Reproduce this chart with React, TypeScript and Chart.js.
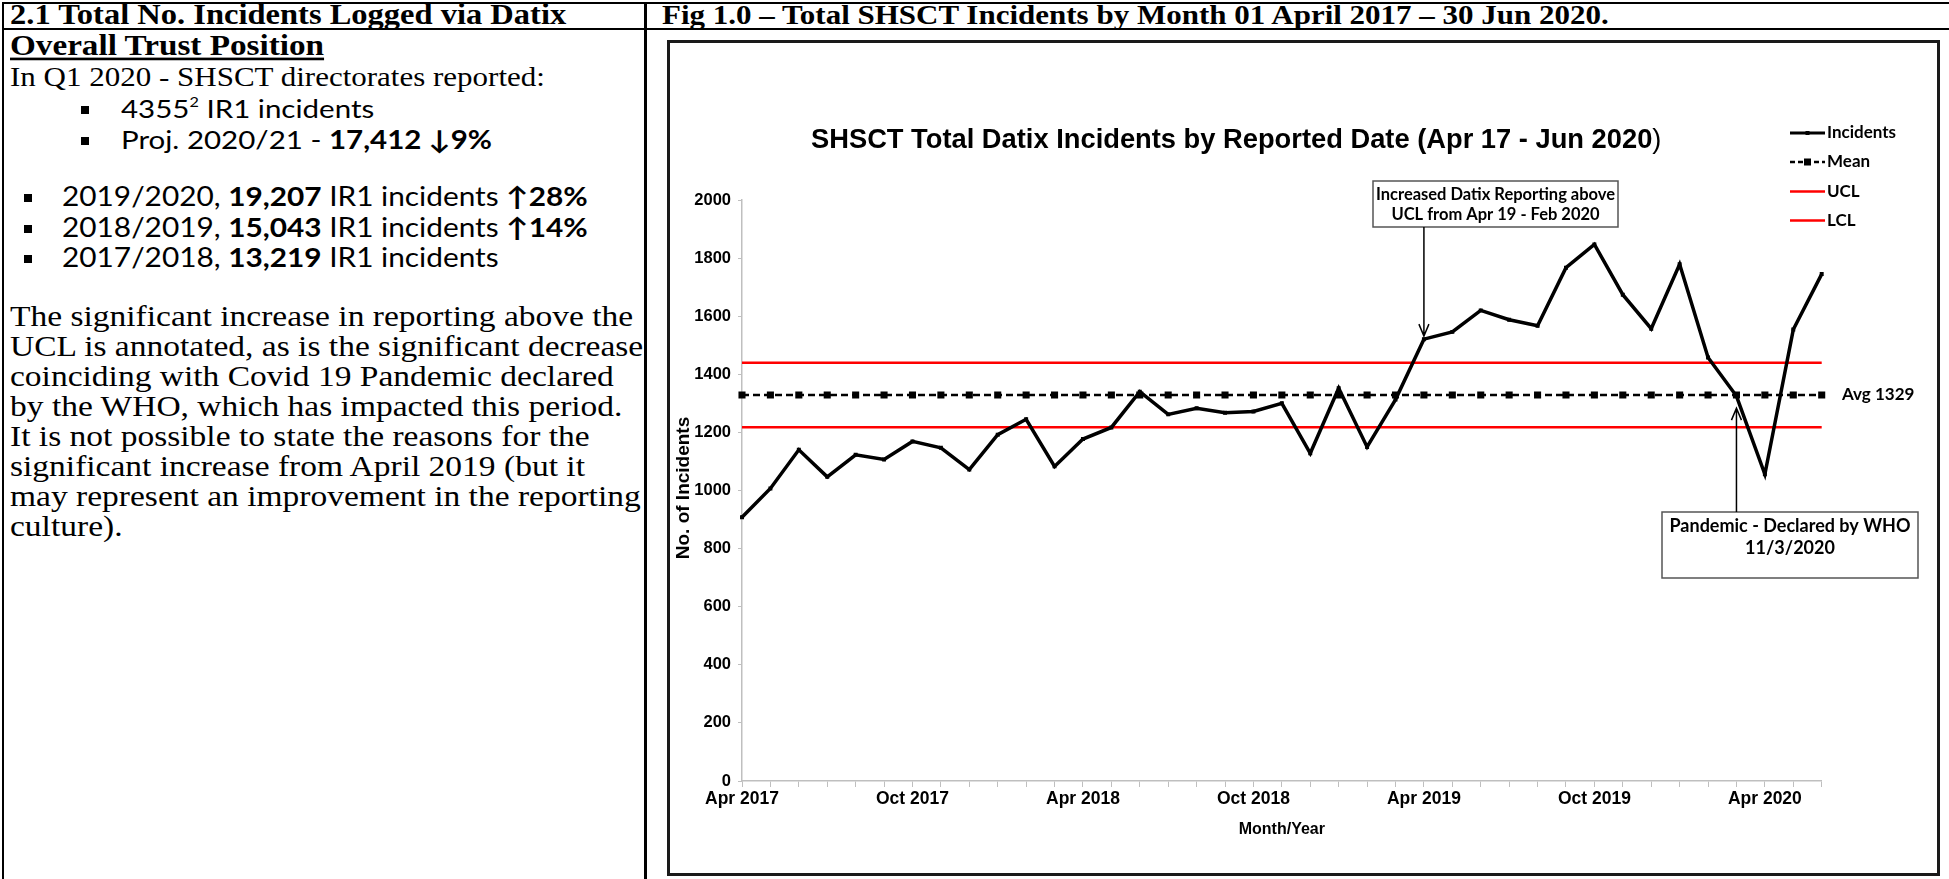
import React, { useEffect, useRef } from "react";
import { Chart, registerables } from "chart.js";

Chart.register(...registerables);

// ---------- data ----------
const MONTHS = [
  "Apr 2017", "May 2017", "Jun 2017", "Jul 2017", "Aug 2017", "Sep 2017",
  "Oct 2017", "Nov 2017", "Dec 2017", "Jan 2018", "Feb 2018", "Mar 2018",
  "Apr 2018", "May 2018", "Jun 2018", "Jul 2018", "Aug 2018", "Sep 2018",
  "Oct 2018", "Nov 2018", "Dec 2018", "Jan 2019", "Feb 2019", "Mar 2019",
  "Apr 2019", "May 2019", "Jun 2019", "Jul 2019", "Aug 2019", "Sep 2019",
  "Oct 2019", "Nov 2019", "Dec 2019", "Jan 2020", "Feb 2020", "Mar 2020",
  "Apr 2020", "May 2020", "Jun 2020",
];
const INCIDENTS = [
  908, 1007, 1140, 1047, 1123, 1107, 1169, 1147, 1072, 1192, 1245, 1083,
  1177, 1217, 1340, 1262, 1283, 1268, 1272, 1300, 1128, 1352, 1150, 1313,
  1521, 1546, 1620, 1588, 1567, 1767, 1847, 1674, 1557, 1779, 1458, 1325,
  1056, 1554, 1745,
];
const MEAN_VALUE = 1329;
const UCL_VALUE = 1440;
const LCL_VALUE = 1218;
const SERIES_NAMES = ["Incidents", "Mean", "UCL", "LCL"];
const X_LABEL_STEP = 6;
const Y_MIN = 0;
const Y_MAX = 2000;
const Y_STEP = 200;
const UCL_NOTE_INDEX = 24;
const WHO_NOTE_INDEX = 35;

const CHART_TITLE = "SHSCT Total Datix Incidents by Reported Date (Apr 17 - Jun 2020";
const NOTE_UCL = ["Increased Datix Reporting above", "UCL from Apr 19 - Feb 2020"];
const NOTE_WHO = ["Pandemic - Declared by WHO", "11/3/2020"];

// ---------- layout ----------
const BOX = { left: 667, top: 40, width: 1273, height: 836, border: 3 };
const CANVAS_LEFT = BOX.left + BOX.border;
const CANVAS_TOP = BOX.top + BOX.border;
const CANVAS_W = BOX.width - 2 * BOX.border;
const CANVAS_H = BOX.height - 2 * BOX.border;
const AREA = { left: 742 - CANVAS_LEFT, top: 200 - CANVAS_TOP, right: 1821.7 - CANVAS_LEFT, bottom: 781 - CANVAS_TOP };

const SANS = "'Liberation Sans', Arial, sans-serif";
const LATO = "Lato, Carlito, Calibri, sans-serif";
const SERIF = "'Liberation Serif', 'Times New Roman', serif";

// page coordinates -> canvas coordinates
const cx = (v: number) => v - CANVAS_LEFT;
const cy = (v: number) => v - CANVAS_TOP;

const overlayPlugin = {
  id: "overlay",
  afterDraw(chart: any) {
    const { ctx } = chart;
    const xs = chart.scales.x;
    const ys = chart.scales.y;
    ctx.save();
    ctx.fillStyle = "#000";

    // title
    ctx.textAlign = "left";
    ctx.textBaseline = "alphabetic";
    ctx.font = `bold 27.3px ${SANS}`;
    ctx.fillText(CHART_TITLE, cx(811), cy(148));
    const tw = ctx.measureText(CHART_TITLE).width;
    ctx.font = `27.3px ${SANS}`;
    ctx.fillText(")", cx(811) + tw, cy(148));

    // y axis title
    ctx.save();
    ctx.translate(cx(684), cy(488));
    ctx.rotate(-Math.PI / 2);
    ctx.font = `bold 19px ${SANS}`;
    ctx.textAlign = "center";
    ctx.textBaseline = "middle";
    ctx.fillText("No. of Incidents", 0, 0);
    ctx.restore();

    // legend
    const legY = [133, 162, 191.5, 220.6].map(cy);
    const lx0 = cx(1790);
    const lx1 = cx(1825);
    chart.data.datasets.forEach((ds: any, i: number) => {
      const yy = legY[i];
      ctx.save();
      ctx.strokeStyle = ds.borderColor;
      ctx.lineWidth = i === 0 ? 3 : 2.5;
      if (i === 1) ctx.setLineDash([5, 3]);
      ctx.beginPath();
      ctx.moveTo(lx0, yy);
      ctx.lineTo(lx1, yy);
      ctx.stroke();
      ctx.setLineDash([]);
      if (i === 0) {
        ctx.fillStyle = "#000";
        ctx.fillRect((lx0 + lx1) / 2 - 2, yy - 2, 4, 4);
      } else if (i === 1) {
        ctx.fillStyle = "#000";
        ctx.fillRect((lx0 + lx1) / 2 - 3.5, yy - 3.5, 7, 7);
      }
      ctx.restore();
      ctx.font = `bold 17px ${LATO}`;
      ctx.textAlign = "left";
      ctx.textBaseline = "middle";
      ctx.fillStyle = "#000";
      ctx.fillText(SERIES_NAMES[i], cx(1827), yy);
    });

    // annotation boxes
    const drawBox = (bx: number, by: number, bw: number, bh: number, lines: string[], ty: number[], size: number) => {
      ctx.fillStyle = "#fff";
      ctx.fillRect(bx, by, bw, bh);
      ctx.strokeStyle = "#555";
      ctx.lineWidth = 1.5;
      ctx.strokeRect(bx, by, bw, bh);
      ctx.fillStyle = "#000";
      ctx.font = `bold ${size}px ${LATO}`;
      ctx.textAlign = "center";
      ctx.textBaseline = "middle";
      lines.forEach((t, k) => ctx.fillText(t, bx + bw / 2, ty[k]));
    };
    const drawArrow = (ax: number, y0: number, tip: number) => {
      const dir = tip > y0 ? 1 : -1;
      ctx.strokeStyle = "#000";
      ctx.lineWidth = 1.5;
      ctx.beginPath();
      ctx.moveTo(ax, y0);
      ctx.lineTo(ax, tip);
      ctx.moveTo(ax - 5, tip - dir * 12);
      ctx.lineTo(ax, tip);
      ctx.lineTo(ax + 5, tip - dir * 12);
      ctx.stroke();
    };

    drawBox(cx(1373), cy(181), 245, 46, NOTE_UCL, [cy(195), cy(215)], 16.5);
    drawArrow(xs.getPixelForValue(UCL_NOTE_INDEX), cy(227), ys.getPixelForValue(INCIDENTS[UCL_NOTE_INDEX]) - 3);

    drawBox(cx(1662), cy(512), 256, 66, NOTE_WHO, [cy(526), cy(548)], 18);
    drawArrow(xs.getPixelForValue(WHO_NOTE_INDEX), cy(512), ys.getPixelForValue(INCIDENTS[WHO_NOTE_INDEX]) + 12);

    // mean label
    ctx.fillStyle = "#000";
    ctx.font = `bold 17px ${LATO}`;
    ctx.textAlign = "left";
    ctx.textBaseline = "middle";
    ctx.fillText(`Avg ${MEAN_VALUE}`, cx(1842), ys.getPixelForValue(MEAN_VALUE));

    ctx.restore();
  },
};

function SpcChart() {
  const ref = useRef<HTMLCanvasElement | null>(null);
  useEffect(() => {
    if (!ref.current) return;
    const chart = new Chart(ref.current, {
      type: "line",
      data: {
        labels: MONTHS,
        datasets: [
          {
            label: SERIES_NAMES[0],
            data: INCIDENTS,
            borderColor: "#000",
            backgroundColor: "#000",
            borderWidth: 3.5,
            pointStyle: "rect",
            pointRadius: 2.8,
            pointBorderWidth: 0,
            tension: 0,
            fill: false,
          },
          {
            label: SERIES_NAMES[1],
            data: MONTHS.map(() => MEAN_VALUE),
            borderColor: "#000",
            backgroundColor: "#000",
            borderWidth: 2.5,
            borderDash: [7, 4],
            pointStyle: "rect",
            pointRadius: 5,
            pointBorderWidth: 0,
            fill: false,
          },
          {
            label: SERIES_NAMES[2],
            data: MONTHS.map(() => UCL_VALUE),
            borderColor: "#ff0000",
            backgroundColor: "#ff0000",
            borderWidth: 2.5,
            pointRadius: 0,
            fill: false,
          },
          {
            label: SERIES_NAMES[3],
            data: MONTHS.map(() => LCL_VALUE),
            borderColor: "#ff0000",
            backgroundColor: "#ff0000",
            borderWidth: 2.5,
            pointRadius: 0,
            fill: false,
          },
        ],
      },
      options: {
        responsive: false,
        animation: false,
        devicePixelRatio: 1,
        events: [],
        layout: { padding: { left: 0, top: AREA.top, right: CANVAS_W - AREA.right, bottom: 0 } },
        plugins: {
          legend: { display: false },
          tooltip: { enabled: false },
          title: { display: false },
        },
        scales: {
          x: {
            type: "category",
            offset: false,
            afterFit: (s: any) => {
              s.height = CANVAS_H - AREA.bottom;
            },
            grid: { display: true, drawOnChartArea: false, drawTicks: true, tickLength: 6, color: "#bfbfbf", lineWidth: 1 },
            border: { display: true, color: "#bfbfbf", width: 1.5 },
            ticks: {
              autoSkip: false,
              maxRotation: 0,
              minRotation: 0,
              padding: 2,
              color: "#000",
              font: { family: SANS, size: 17.5, weight: "bold" },
              callback: (_v: any, i: number) => (i % X_LABEL_STEP === 0 ? MONTHS[i] : ""),
            },
            title: {
              display: true,
              text: "Month/Year",
              color: "#000",
              font: { family: SANS, size: 16, weight: "bold" },
              padding: { top: 0, bottom: 34 },
            },
          },
          y: {
            min: Y_MIN,
            max: Y_MAX,
            afterFit: (s: any) => {
              s.width = AREA.left;
            },
            ticks: {
              stepSize: Y_STEP,
              padding: 7,
              color: "#000",
              font: { family: SANS, size: 16.5, weight: "bold" },
              callback: (v: any) => String(v),
            },
            grid: { display: true, drawOnChartArea: false, drawTicks: true, tickLength: 4, color: "#bfbfbf" },
            border: { display: true, color: "#bfbfbf", width: 1.5 },
          },
        },
      },
      plugins: [overlayPlugin],
    } as any);

    // correct the layout so the plot area lands where the reference has it
    const a = chart.chartArea;
    const p = { left: 0, top: AREA.top, right: CANVAS_W - AREA.right, bottom: 0 };
    p.top += AREA.top - a.top;
    p.left += AREA.left - a.left;
    p.right += a.right - AREA.right;
    p.bottom += a.bottom - AREA.bottom;
    (chart.options as any).layout.padding = p;
    chart.update();

    return () => chart.destroy();
  }, []);
  return (
    <canvas
      ref={ref}
      width={CANVAS_W}
      height={CANVAS_H}
      style={{ position: "absolute", left: CANVAS_LEFT, top: CANVAS_TOP, width: CANVAS_W, height: CANVAS_H }}
    />
  );
}

const KS = 0.8375; // baseline factor for Liberation Serif with line-height = font size
const KL = 0.887; // baseline factor for Lato
const SQ = 0.88; // vertical squeeze of the document text

function T(props: { x: number; b: number; size: number; family: string; k: number; weight?: any; style?: any; children: any }) {
  const { x, b, size, family, k, weight, style, children } = props;
  return (
    <div
      style={{
        position: "absolute",
        left: x,
        top: b - k * size,
        fontSize: size,
        lineHeight: `${size}px`,
        fontFamily: family,
        fontWeight: weight || "normal",
        whiteSpace: "nowrap",
        color: "#000",
        transform: `scaleY(${SQ})`,
        transformOrigin: `0 ${k * size}px`,
        ...style,
      }}
    >
      {children}
    </div>
  );
}

function Bullet({ x, b }: { x: number; b: number }) {
  return <div style={{ position: "absolute", left: x, top: b - 13, width: 8, height: 8, background: "#000" }} />;
}

const PARA = [
  "The significant increase in reporting above the",
  "UCL is annotated, as is the significant decrease",
  "coinciding with Covid 19 Pandemic declared",
  "by the WHO, which has impacted this period.",
  "It is not possible to state the reasons for the",
  "significant increase from April 2019 (but it",
  "may represent an improvement in the reporting",
  "culture).",
];

export default function App() {
  const L = 29.5;
  const line = (style: any) => <div style={{ position: "absolute", background: "#000", ...style }} />;
  return (
    <div style={{ position: "absolute", left: 0, top: 0, width: 1949, height: 879, background: "#fff", overflow: "hidden" }}>
      {line({ left: 1.5, top: 1.5, width: 1948, height: 2.5 })}
      {line({ left: 1.5, top: 27.5, width: 1948, height: 2.5 })}
      {line({ left: 1.5, top: 1.5, width: 2.5, height: 878 })}
      {line({ left: 644, top: 1.5, width: 2.5, height: 878 })}

      <T x={10} b={24} size={32.5} family={SERIF} k={KS} weight="bold">2.1 Total No. Incidents Logged via Datix</T>
      <T x={662} b={24} size={31} family={SERIF} k={KS} weight="bold">
        Fig 1.0 – Total SHSCT Incidents by Month 01 April 2017 – 30 Jun 2020.
      </T>

      <T x={10} b={55} size={33.2} family={SERIF} k={KS} weight="bold" style={{ textDecoration: "underline", textDecorationThickness: "2.5px", textUnderlineOffset: "3px" }}>
        Overall Trust Position
      </T>
      <T x={10} b={86} size={31} family={SERIF} k={KS}>In Q1 2020 - SHSCT directorates reported:</T>

      <Bullet x={81} b={118.5} />
      <T x={121} b={118.5} size={L} family={LATO} k={KL}>
        4355<sup style={{ fontSize: "0.55em", lineHeight: 0, verticalAlign: "0.75em" }}>2</sup> IR1 incidents
      </T>
      <Bullet x={81} b={149.5} />
      <T x={121} b={149.5} size={L} family={LATO} k={KL}>
        Proj. 2020/21 - <b>17,412 ↓9%</b>
      </T>

      <Bullet x={24} b={206.6} />
      <T x={62} b={206.6} size={29.8} family={LATO} k={KL}>
        2019/2020, <b>19,207</b> IR1 incidents <b>↑28%</b>
      </T>
      <Bullet x={24} b={237.7} />
      <T x={62} b={237.7} size={29.8} family={LATO} k={KL}>
        2018/2019, <b>15,043</b> IR1 incidents <b>↑14%</b>
      </T>
      <Bullet x={24} b={267.5} />
      <T x={62} b={267.5} size={29.8} family={LATO} k={KL}>
        2017/2018, <b>13,219</b> IR1 incidents
      </T>

      {PARA.map((t, i) => (
        <T key={i} x={10} b={326 + i * 30} size={33.5} family={SERIF} k={KS}>
          {t}
        </T>
      ))}

      <div
        style={{
          position: "absolute",
          left: BOX.left,
          top: BOX.top,
          width: BOX.width - 2 * BOX.border,
          height: BOX.height - 2 * BOX.border,
          border: `${BOX.border}px solid #1a1a1a`,
        }}
      />
      <SpcChart />
    </div>
  );
}
